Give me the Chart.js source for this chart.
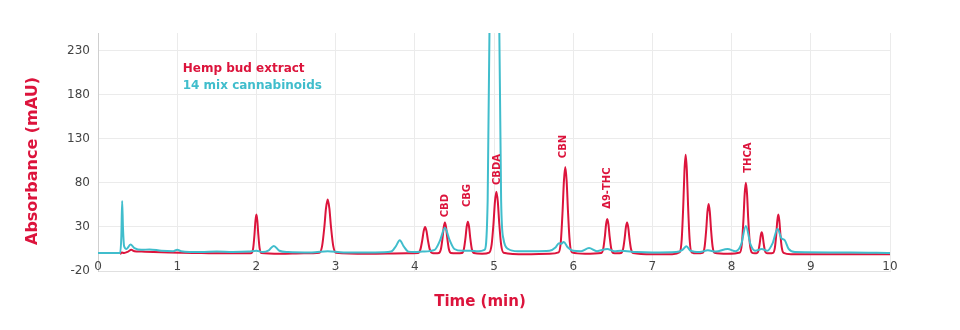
<!DOCTYPE html>
<html>
<head>
<meta charset="utf-8">
<script src="https://cdn.jsdelivr.net/npm/chart.js@4.4.0/dist/chart.umd.min.js"></script>
<style>
  html, body { margin: 0; padding: 0; background: #fff; }
  canvas { display: block; }
</style>
</head>
<body>
<canvas id="myChart" width="960" height="330"></canvas>
<script>
// retention time (min) and absorbance (mAU)
var redTime = [0.28, 0.30, 0.33, 0.38, 0.42, 0.46, 0.55, 0.70, 0.90, 1.20, 1.60, 1.90,
  1.94, 1.96, 1.976, 1.988, 2.00, 2.012, 2.024, 2.04, 2.06,
  2.30, 2.60,
  2.795, 2.83, 2.858, 2.879, 2.90, 2.921, 2.942, 2.97, 3.005,
  3.40, 3.90,
  4.04, 4.07, 4.094, 4.112, 4.13, 4.148, 4.166, 4.19, 4.22,
  4.26,
  4.305, 4.33, 4.35, 4.365, 4.38, 4.395, 4.41, 4.43, 4.455,
  4.53,
  4.595, 4.62, 4.64, 4.655, 4.67, 4.685, 4.70, 4.72, 4.745,
  4.85,
  4.94, 4.97, 4.994, 5.012, 5.03, 5.048, 5.066, 5.09, 5.12,
  5.40, 5.70,
  5.816, 5.844, 5.866, 5.883, 5.90, 5.917, 5.934, 5.956, 5.984,
  6.15,
  6.355, 6.38, 6.40, 6.415, 6.43, 6.445, 6.46, 6.48, 6.505,
  6.555,
  6.605, 6.63, 6.65, 6.665, 6.68, 6.695, 6.71, 6.73, 6.755,
  7.00, 7.25,
  7.345, 7.37, 7.39, 7.405, 7.42, 7.435, 7.45, 7.47, 7.495,
  7.565,
  7.635, 7.66, 7.68, 7.695, 7.71, 7.725, 7.74, 7.76, 7.785,
  7.95,
  8.105, 8.13, 8.15, 8.165, 8.18, 8.195, 8.21, 8.23, 8.255,
  8.29,
  8.32, 8.34, 8.356, 8.368, 8.38, 8.392, 8.404, 8.42, 8.44,
  8.48,
  8.524, 8.546, 8.564, 8.577, 8.59, 8.603, 8.616, 8.634, 8.656,
  8.75, 9.50, 10.0];
var redValue = [-1, 1, 0.5, 2, 4, 2.5, 2, 1.5, 1, 0.5, 0, 0,
  0.4, 6.2, 21.6, 37, 44, 37, 21.6, 6.2, 0.4,
  -0.5, 0,
  0.6, 8.5, 29.9, 51.2, 61, 51.2, 29.9, 8.5, 0.6,
  -0.5, 0,
  0.3, 4.2, 14.7, 25.2, 30, 25.2, 14.7, 4.2, 0.3,
  0,
  0.4, 4.9, 17.2, 29.4, 35, 29.4, 17.2, 4.9, 0.4,
  0,
  0.4, 5, 17.6, 30.2, 36, 30.2, 17.6, 5, 0.4,
  -0.5,
  0.8, 9.8, 34.3, 58.8, 70, 58.8, 34.3, 9.8, 0.8,
  -1, -0.5,
  1.1, 13.7, 48, 82.3, 98, 82.3, 48, 13.7, 1.1,
  -0.5,
  0.4, 5.5, 19.1, 32.8, 39, 32.8, 19.1, 5.5, 0.4,
  0,
  0.4, 4.9, 17.2, 29.4, 35, 29.4, 17.2, 4.9, 0.4,
  -1, -1,
  1.2, 15.7, 54.9, 94.1, 112, 94.1, 54.9, 15.7, 1.2,
  0,
  0.6, 7.8, 27.4, 47, 56, 47, 27.4, 7.8, 0.6,
  -0.5,
  0.9, 11.2, 39.2, 67.2, 80, 67.2, 39.2, 11.2, 0.9,
  0,
  0.3, 3.4, 11.8, 20.2, 24, 20.2, 11.8, 3.4, 0.3,
  0,
  0.5, 6.2, 21.6, 37, 44, 37, 21.6, 6.2, 0.5,
  -1, -1, -1];

var cyanTime = [0, 0.28, 0.295, 0.305, 0.315, 0.33, 0.36, 0.41, 0.46, 0.55, 0.65, 0.80, 0.95, 1.00, 1.05,
  1.30, 1.50, 1.70, 1.90, 2.00, 2.08, 2.15, 2.22, 2.29, 2.40, 2.70, 2.90, 3.10, 3.50,
  3.70, 3.76, 3.81, 3.86, 3.92, 4.00, 4.10, 4.25, 4.32, 4.38, 4.44, 4.50, 4.60, 4.70, 4.80,
  4.88, 4.92, 4.945, 5.00, 5.065, 5.09, 5.12, 5.18, 5.30, 5.50, 5.70,
  5.78, 5.82, 5.85, 5.88, 5.93, 6.00, 6.10, 6.20, 6.30, 6.43, 6.52, 6.60, 6.80, 7.00,
  7.30, 7.38, 7.43, 7.48, 7.60, 7.70, 7.80, 7.95, 8.05,
  8.12, 8.18, 8.24, 8.30, 8.38, 8.45, 8.52, 8.58, 8.63, 8.67, 8.72, 8.80, 9.50, 10.0];
var cyanValue = [0.5, 0.5, 20, 59.5, 30, 8, 5, 10, 6, 4, 4.5, 3, 2.5, 4, 2.5,
  1.5, 2, 1.5, 2, 3, 1.5, 3, 8.5, 3, 1.5, 1, 2.5, 1, 1,
  2, 8, 15, 8, 2, 1.5, 2, 4, 15, 29, 15, 5, 3, 3, 2.5,
  4, 60, 270, 1200, 270, 60, 16, 5, 2.5, 2.5, 3,
  7, 11.5, 11, 13, 7, 3, 2.5, 6, 2.5, 5, 2.5, 3, 1.5, 1,
  1.5, 4, 8, 3, 1.5, 3.5, 2, 5, 2.5,
  10, 31, 10, 3, 5, 3, 12, 28, 17, 15, 5, 1.5, 1, 0.5];

var seriesNames = ['Hemp bud extract', '14 mix cannabinoids'];
var seriesColors = ['rgb(220, 20, 60)', 'rgb(64, 189, 204)'];

var peakNames = ['CBD', 'CBG', 'CBDA', 'CBN', '\u03949-THC', 'THCA'];
var peakTimes = [4.39, 4.67, 5.04, 5.88, 6.43, 8.21];
var peakLabelBase = [41, 52.5, 77.5, 108, 50.5, 91.5];

var xTicks = [0, 1, 2, 3, 4, 5, 6, 7, 8, 9, 10];
var yTicks = [-20, 30, 80, 130, 180, 230];

var FONT = '"DejaVu Sans", Verdana, sans-serif';

function toPoints(xs, ys) {
    var pts = [];
    for (var i = 0; i < xs.length; i++) pts.push({x: xs[i], y: ys[i]});
    return pts;
}

var textPlugin = {
    id: 'texts',
    afterDraw: function(chart) {
        var ctx = chart.ctx;
        var xs = chart.scales.x;
        var ys = chart.scales.y;
        ctx.save();
        // x tick labels sit just inside the bottom of the plot
        ctx.font = '12px ' + FONT;
        ctx.fillStyle = '#444';
        ctx.textAlign = 'center';
        ctx.textBaseline = 'middle';
        xTicks.forEach(function(t) {
            ctx.fillText(String(t), xs.getPixelForValue(t), 267);
        });
        // legend written inside the plot
        ctx.font = 'bold 12px ' + FONT;
        ctx.textAlign = 'left';
        ctx.fillStyle = seriesColors[0];
        ctx.fillText(seriesNames[0], xs.getPixelForValue(1.07), 69);
        ctx.fillStyle = seriesColors[1];
        ctx.fillText(seriesNames[1], xs.getPixelForValue(1.07), 86);
        // peak names, rotated
        ctx.font = 'bold 10px ' + FONT;
        ctx.fillStyle = seriesColors[0];
        for (var i = 0; i < peakNames.length; i++) {
            ctx.save();
            ctx.translate(xs.getPixelForValue(peakTimes[i]), ys.getPixelForValue(peakLabelBase[i]));
            ctx.rotate(-Math.PI / 2);
            ctx.textAlign = 'left';
            ctx.textBaseline = 'middle';
            ctx.fillText(peakNames[i], 0, 0);
            ctx.restore();
        }
        // axis titles
        ctx.fillStyle = seriesColors[0];
        ctx.font = 'bold 15px ' + FONT;
        ctx.textAlign = 'center';
        ctx.textBaseline = 'middle';
        ctx.fillText('Time (min)', 480, 302);
        ctx.save();
        ctx.translate(33, 161);
        ctx.rotate(-Math.PI / 2);
        ctx.font = 'bold 16px ' + FONT;
        ctx.fillText('Absorbance (mAU)', 0, 0);
        ctx.restore();
        ctx.restore();
    }
};

var ctx = document.getElementById('myChart').getContext('2d');
var chart = new Chart(ctx, {
    type: 'line',
    data: {
        datasets: [{
            label: seriesNames[0],
            data: toPoints(redTime, redValue),
            borderColor: seriesColors[0],
            borderWidth: 2,
            pointRadius: 0,
            cubicInterpolationMode: 'monotone',
            fill: false,
            order: 2
        }, {
            label: seriesNames[1],
            data: toPoints(cyanTime, cyanValue),
            borderColor: seriesColors[1],
            borderWidth: 2,
            pointRadius: 0,
            cubicInterpolationMode: 'monotone',
            fill: false,
            order: 1
        }]
    },
    options: {
        responsive: false,
        animation: false,
        layout: { padding: { top: 33, right: 70, left: 0, bottom: 0 } },
        plugins: {
            legend: { display: false },
            tooltip: { enabled: false }
        },
        scales: {
            x: {
                type: 'linear',
                min: 0,
                max: 10,
                afterBuildTicks: function(scale) {
                    scale.ticks = xTicks.map(function(v) { return {value: v}; });
                },
                afterFit: function(scale) { scale.height = 59; },
                grid: { color: '#ebebeb', drawTicks: false },
                border: { color: '#e0e0e0' },
                ticks: { display: false }
            },
            y: {
                min: -20,
                max: 250,
                afterBuildTicks: function(scale) {
                    scale.ticks = yTicks.map(function(v) { return {value: v}; });
                },
                afterFit: function(scale) { scale.width = 98; },
                grid: { color: '#ebebeb', drawTicks: false },
                border: { color: '#cfcfcf' },
                ticks: {
                    padding: 8,
                    color: '#444',
                    font: { family: FONT, size: 12 }
                }
            }
        }
    },
    plugins: [textPlugin]
});
</script>
</body>
</html>
